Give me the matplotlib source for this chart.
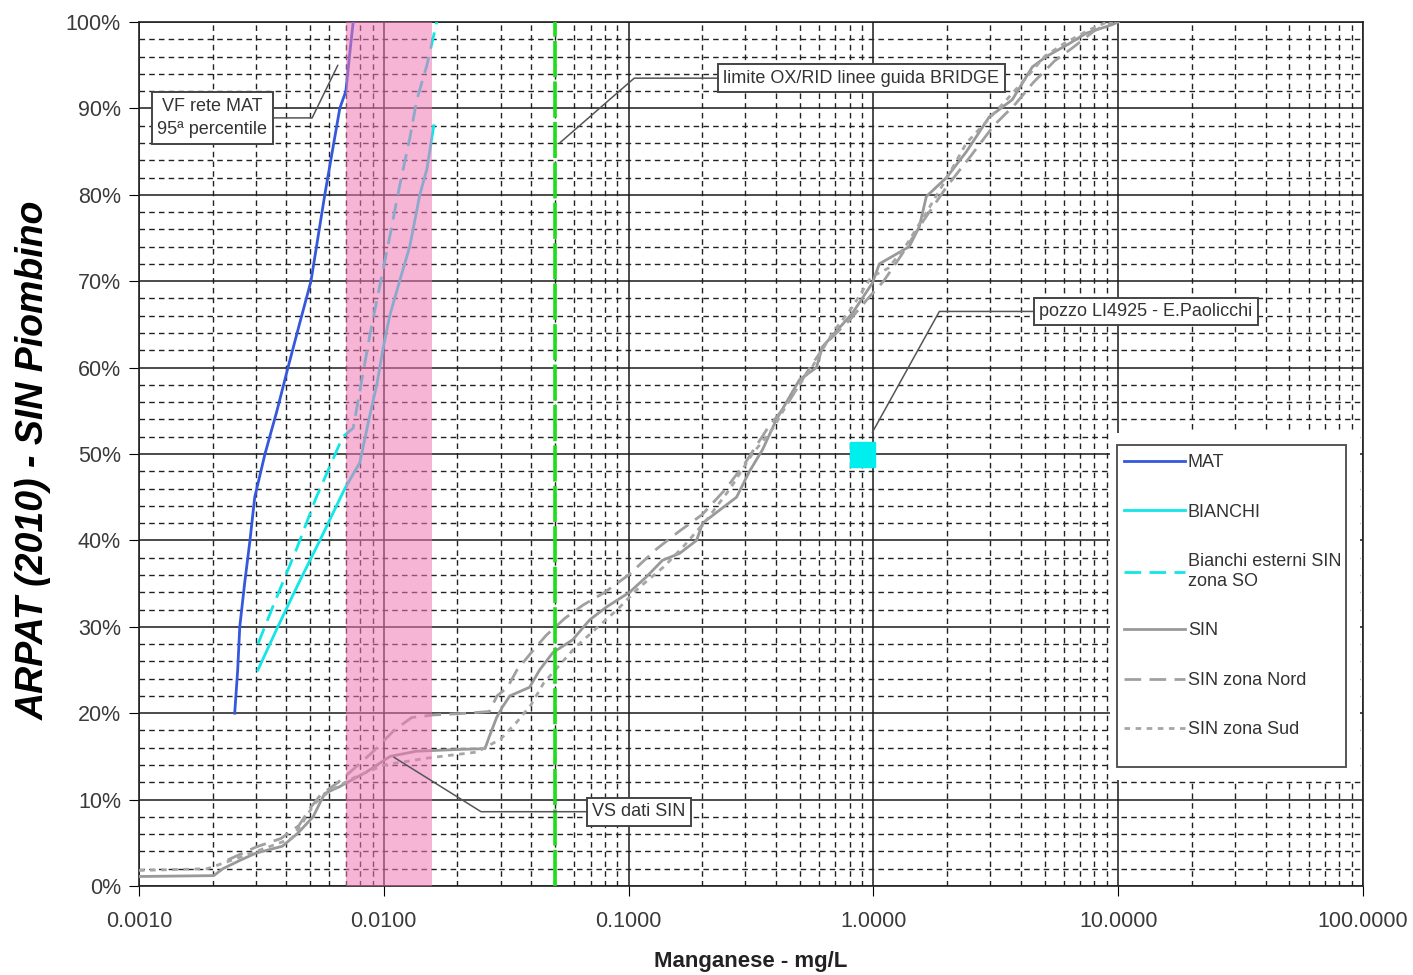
import numpy as np
import matplotlib
matplotlib.use("Agg")
import matplotlib.pyplot as plt
from matplotlib.ticker import FixedLocator, LogLocator, MultipleLocator, FuncFormatter, NullFormatter
from matplotlib.patches import Rectangle

plt.rcParams['font.family'] = ['Liberation Sans', 'DejaVu Sans']

# --- data (x = Mn mg/L, y = cumulative %) ---
mat_x = [0.00246, 0.00253, 0.00258, 0.00270, 0.00284, 0.00297, 0.00327, 0.00366, 0.00406,
         0.00452, 0.00504, 0.00574, 0.00661, 0.0068, 0.0070, 0.0073, 0.0075]
mat_y = [20, 25, 30, 35, 40, 45, 50, 55, 60, 65, 70, 80, 90, 91, 92, 97, 100]

bianchi_x = [0.00306, 0.00369, 0.00448, 0.00548, 0.00693, 0.00798, 0.00877, 0.00936, 0.0099,
             0.01057, 0.0116, 0.01276, 0.01403, 0.0150, 0.0160]
bianchi_y = [25, 30, 35, 40, 46, 49, 54.5, 58, 62, 66, 70, 74, 80, 83, 88]

est_x = [0.00306, 0.0036, 0.0044, 0.0053, 0.0068, 0.0075, 0.0088, 0.01038, 0.0116, 0.01276,
         0.01364, 0.0150, 0.01645]
est_y = [28, 33, 39, 45, 52, 53, 64, 74, 81, 86.5, 91, 95, 100]

sin_x = [0.001, 0.00202, 0.0022, 0.0026, 0.0030, 0.00385, 0.00445, 0.00514, 0.00573, 0.0066,
         0.0085, 0.0106, 0.0136, 0.0200, 0.0259, 0.0269, 0.0289, 0.0305, 0.0327, 0.0394,
         0.0433, 0.0490, 0.0591, 0.0693, 0.0813, 0.1009, 0.1184, 0.1376, 0.1616, 0.1895,
         0.2006, 0.2352, 0.2760, 0.3118, 0.3524, 0.4018, 0.499, 0.585, 0.619, 0.821,
         0.991, 1.057, 1.40, 1.54, 1.645, 1.99, 2.40, 2.97, 3.69, 4.46,
         5.08, 6.31, 7.40, 9.46, 10.0]
sin_y = [1.1, 1.2, 2.0, 3.0, 3.8, 4.6, 6.1, 8.0, 10.7, 11.5,
         13.2, 15.0, 15.6, 15.8, 15.9, 17.2, 19.5, 20.7, 22.0, 23.0,
         25.0, 27.0, 28.5, 30.8, 32.3, 34.0, 35.8, 37.7, 38.5, 40.0,
         42.0, 43.5, 45.0, 48.0, 50.5, 54.0, 58.6, 60.0, 62.4, 66.3,
         69.8, 72.0, 74.0, 76.3, 79.8, 82.0, 85.0, 89.0, 91.0, 94.8,
         96.0, 97.5, 98.7, 99.7, 100]

nord_x = [0.0023, 0.0030, 0.0038, 0.0045, 0.0050, 0.0055, 0.0065, 0.0075, 0.009, 0.011,
          0.013, 0.016, 0.022, 0.027, 0.029, 0.032, 0.035, 0.040, 0.046, 0.055,
          0.065, 0.080, 0.10, 0.13, 0.16, 0.20, 0.25, 0.30, 0.37, 0.45,
          0.55, 0.65, 0.80, 0.95, 1.10, 1.30, 1.60, 2.0, 2.5, 3.1,
          3.8, 4.5, 5.5, 6.5, 8.0, 9.5]
nord_y = [3.0, 4.5, 5.5, 7.0, 9.0, 10.5, 12.0, 13.5, 15.5, 18.0,
          19.5, 19.8, 20.0, 20.2, 22.0, 23.0, 25.0, 27.0, 29.0, 31.0,
          32.5, 34.0, 36.0, 39.0, 41.0, 43.0, 46.0, 49.0, 53.0, 56.0,
          60.0, 63.0, 65.5, 68.0, 70.0, 73.0, 77.0, 81.0, 84.5, 88.0,
          90.5, 93.0, 95.5, 97.0, 99.0, 100]

sud_x = [0.001, 0.0019, 0.0024, 0.003, 0.0036, 0.0042, 0.0047, 0.0052, 0.006, 0.0075,
         0.010, 0.015, 0.024, 0.030, 0.035, 0.040, 0.045, 0.052, 0.060, 0.075,
         0.090, 0.11, 0.14, 0.17, 0.21, 0.26, 0.32, 0.39, 0.47, 0.56,
         0.68, 0.82, 0.98, 1.15, 1.35, 1.65, 2.0, 2.4, 2.9, 3.5,
         4.2, 5.0, 6.0, 7.5, 9.0]
sud_y = [1.8, 2.0, 3.0, 4.0, 4.8, 5.5, 7.5, 9.5, 11.0, 12.5,
         14.0, 14.8, 15.5, 17.0, 19.0, 21.0, 23.5, 25.5, 27.5, 30.0,
         32.0, 34.5, 37.0, 39.5, 42.5, 46.0, 50.0, 53.0, 57.0, 60.0,
         64.0, 67.0, 70.5, 71.5, 74.0, 78.0, 82.0, 86.0, 88.5, 91.0,
         93.5, 96.0, 97.5, 99.0, 100]

pozzo_x = [0.9]
pozzo_y = [50]

band_lo, band_hi = 0.007, 0.0158   # pink band
limit_vs = 0.05                     # green vertical line

xtick_vals = [0.001, 0.01, 0.1, 1, 10, 100]
xtick_labels = ["0.0010", "0.0100", "0.1000", "1.0000", "10.0000", "100.0000"]

fig = plt.figure(figsize=(14.13, 9.75), dpi=100)
ax = fig.add_axes([139 / 1413, 1 - 886 / 975, 1224 / 1413, 864 / 975])
ax.set_xscale('log')
ax.set_xlim(0.001, 100)
ax.set_ylim(0, 100)

# grid
ax.set_axisbelow(True)
ax.xaxis.set_major_locator(FixedLocator(xtick_vals))
ax.xaxis.set_minor_locator(LogLocator(base=10, subs=np.arange(2, 10)))
ax.xaxis.set_minor_formatter(NullFormatter())
ax.set_xticklabels(xtick_labels)
ax.yaxis.set_major_locator(MultipleLocator(10))
ax.yaxis.set_minor_locator(MultipleLocator(2))
ax.yaxis.set_major_formatter(FuncFormatter(lambda v, p: f"{v:.0f}%"))
ax.grid(which='major', color='#1a1a1a', lw=1.1)
ax.grid(which='minor', color='#222222', lw=1.0, ls=(0, (4, 3)))
ax.tick_params(which='major', length=7, direction='out', labelsize=15.5,
               labelcolor='#3a3a3a', pad=6)
ax.tick_params(axis='x', which='major', pad=11)
ax.tick_params(which='minor', length=0)
for s in ax.spines.values():
    s.set_color('#222222')
    s.set_linewidth(1.2)

# curves
ax.plot(mat_x, mat_y, color='#3558dc', lw=2.0, label='MAT', zorder=3)
ax.plot(bianchi_x, bianchi_y, color='#12e6e6', lw=2.0, label='BIANCHI', zorder=3)
ax.plot(est_x, est_y, color='#12e6e6', lw=2.0, ls=(0, (6, 3)),
        label='Bianchi esterni SIN\nzona SO', zorder=3)
ax.plot(sin_x, sin_y, color='#999999', lw=2.0, label='SIN', zorder=3)
ax.plot(nord_x, nord_y, color='#a0a0a0', lw=2.0, ls=(0, (6, 3)), label='SIN zona Nord', zorder=3)
ax.plot(sud_x, sud_y, color='#a6a6a6', lw=2.0, ls=(0, (2, 2)), label='SIN zona Sud', zorder=3)

ax.axvspan(band_lo, band_hi, color='#f078b4', alpha=0.55, lw=0, zorder=4)
ax.axvline(limit_vs, color='#1edc1e', lw=2.6, ls=(0, (10, 1.2)), zorder=5)
ax.plot(pozzo_x, pozzo_y, marker='s', ms=18, color='#00eeee', ls='none', zorder=6)

# callouts
box = dict(boxstyle='square,pad=0.3', fc='white', ec='#444444', lw=1.4)
arrow = dict(arrowstyle='-', color='#555555', lw=1.1, shrinkA=0, shrinkB=0)
callouts = [
    ("VF rete MAT\n95ª percentile", (0.00649, 95.0), (0.00199, 88.9), 64),
    ("limite OX/RID linee guida BRIDGE", (0.0523, 86.0), (0.894, 93.5), 41),
    ("pozzo LI4925 - E.Paolicchi", (0.99, 52.5), (13.0, 66.5), 61),
    ("VS dati SIN", (0.011, 14.9), (0.11, 8.6), -32),
]
for txt, xy, xyt, angb in callouts:
    ax.annotate(txt, xy=xy, xytext=xyt, ha='center', va='center', fontsize=13,
                color='#333333', bbox=box, zorder=7, linespacing=1.5,
                arrowprops=dict(arrow, connectionstyle=f"angle,angleA=0,angleB={angb},rad=0"))

# legend: white backing + frame drawn as patches, entries without frame
ax.add_patch(Rectangle((0.793, 0.123), 0.2045, 0.401, transform=ax.transAxes,
                       fc='white', ec='none', zorder=6))
ax.add_patch(Rectangle((0.799, 0.1377), 0.1871, 0.3727, transform=ax.transAxes,
                       fc='none', ec='#555555', lw=1.4, zorder=6.5))
leg = ax.legend(loc='upper left', bbox_to_anchor=(0.8, 0.506), borderaxespad=0,
                fontsize=13, handlelength=3.4, handletextpad=0.15, labelspacing=1.8,
                borderpad=0.3, frameon=False)
leg.set_zorder(8)
for t in leg.get_texts():
    t.set_color('#333333')

# axis titles
fig.text(0.024, 1 - 460 / 975, "ARPAT (2010) - SIN Piombino", rotation=90, ha='center',
         va='center', fontsize=27, fontweight='bold', style='italic', color='black')
fig.text(751 / 1413, 1 - 962 / 975, "Manganese - mg/L", ha='center', va='center',
         fontsize=16, fontweight='bold', color='#222222')

fig.savefig("out.png", dpi=100)
